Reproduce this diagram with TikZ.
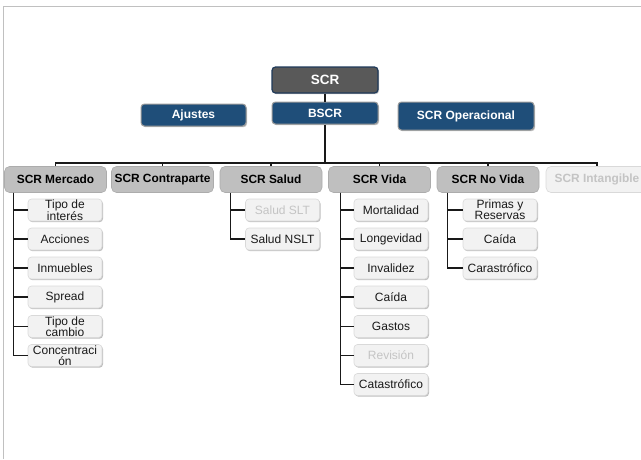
\documentclass[tikz,border=0pt]{standalone}
\usepackage{fontspec}
\setmainfont{Liberation Sans}
\usetikzlibrary{shadows}
\definecolor{navy}{HTML}{1F4E79}
\definecolor{scrgray}{HTML}{595959}
\definecolor{scredge}{HTML}{1F3A5A}
\definecolor{lvlfill}{HTML}{BFBFBF}
\definecolor{leaffill}{HTML}{F2F2F2}
\definecolor{leafedge}{HTML}{D9D9D9}
\definecolor{leaftext}{HTML}{1A1A1A}
\definecolor{offtext}{HTML}{C4C4C4}
\definecolor{frame}{HTML}{C0C0C0}
\tikzset{
  boxbase/.style={rounded corners=3.5pt, inner sep=0pt, align=center,
    drop shadow={shadow xshift=1pt, shadow yshift=-1.2pt, opacity=0.25, fill=black}},
  topbox/.style={boxbase, fill=scrgray, draw=scredge, line width=1.2pt, text=white,
    minimum width=106pt, minimum height=26pt, font=\fontsize{13.5}{14}\selectfont\bfseries},
  bluebox/.style={boxbase, fill=navy, draw=gray!80, line width=1pt, text=white,
    font=\fontsize{12}{13}\selectfont\bfseries},
  lvlbox/.style={rounded corners=5pt, inner sep=0pt, align=center, fill=lvlfill, draw=lvlfill!90!black,
    line width=0.6pt, minimum width=102pt, minimum height=26pt, text=black,
    font=\fontsize{11.9}{12}\selectfont\bfseries},
  lvloff/.style={lvlbox, fill=leaffill, draw=leafedge, text=offtext},
  leafbox/.style={boxbase, fill=leaffill, draw=leafedge, line width=0.6pt, text=leaftext,
    minimum width=74pt, minimum height=22pt, font=\fontsize{12}{11.2}\selectfont},
  leafoff/.style={leafbox, text=offtext},
  conn/.style={line width=1.3pt, draw=black!90},
}
\begin{document}
\begin{tikzpicture}[x=1pt,y=-1pt]
\useasboundingbox (0,0) rectangle (641,459);
\draw[frame, line width=1.6pt] (3.5,459) -- (3.5,6.5) -- (641,6.5);

% top
\node[topbox] (scr) at (325,80) {SCR};
\node[bluebox, minimum width=106pt, minimum height=22pt] (bscr) at (325,113) {BSCR};
\node[bluebox, minimum width=105pt, minimum height=22pt] (ajustes) at (193.5,115) {Ajustes};
\node[bluebox, minimum width=136pt, minimum height=28pt] (oper) at (466,116) {SCR Operacional};
\draw[conn, line width=1.2pt] (scr.south) -- (bscr.north);

% level 2
\node[lvlbox] (mercado) at (55.5,179.5) {SCR Mercado};
\node[lvlbox] (contra) at (162.5,179.5) {SCR Contraparte};
\node[lvlbox] (salud) at (271,179.5) {SCR Salud};
\node[lvlbox] (vida) at (379.5,179.5) {SCR Vida};
\node[lvlbox] (novida) at (488,179.5) {SCR No Vida};
\node[lvloff] (intang) at (597,179.5) {SCR Intangible};

\coordinate (bus) at (325,163);
\draw[conn, line width=1.2pt] (bscr.south) -- (bus);
\draw[conn, line width=1.2pt] (mercado.north) -- (mercado.north |- bus) -- (intang.north |- bus) -- (intang.north);
\foreach \n in {contra,salud,vida,novida}
  \draw[conn, line width=1.2pt] (\n.north) -- (\n.north |- bus);

% Mercado children
\node[leafbox] (m1) at (65,210) {Tipo de\\interés};
\node[leafbox] (m2) at (65,239) {Acciones};
\node[leafbox] (m3) at (65,268) {Inmuebles};
\node[leafbox] (m4) at (65,297) {Spread};
\node[leafbox] (m5) at (65,326.5) {Tipo de\\cambio};
\node[leafbox] (m6) at (65,355.5) {Concentraci\\ón};
\foreach \c in {m1,m2,m3,m4,m5,m6}
  \draw[conn] ([xshift=9pt]mercado.south west) |- (\c.west);

% Salud children
\node[leafoff] (s1) at (282.5,210) {Salud SLT};
\node[leafbox] (s2) at (282.5,239) {Salud NSLT};
\foreach \c in {s1,s2}
  \draw[conn] ([xshift=11pt]salud.south west) |- (\c.west);

% Vida children
\node[leafbox] (v1) at (391,210) {Mortalidad};
\node[leafbox] (v2) at (391,239) {Longevidad};
\node[leafbox] (v3) at (391,268) {Invalidez};
\node[leafbox] (v4) at (391,297) {Caída};
\node[leafbox] (v5) at (391,326.5) {Gastos};
\node[leafoff] (v6) at (391,355.5) {Revisión};
\node[leafbox] (v7) at (391,384.5) {Catastrófico};
\foreach \c in {v1,v2,v3,v4,v5,v6,v7}
  \draw[conn] ([xshift=12.5pt]vida.south west) |- (\c.west);

% No Vida children
\node[leafbox] (n1) at (500,210) {Primas y\\Reservas};
\node[leafbox] (n2) at (500,239) {Caída};
\node[leafbox] (n3) at (500,268) {Carastrófico};
\foreach \c in {n1,n2,n3}
  \draw[conn] ([xshift=11pt]novida.south west) |- (\c.west);
\end{tikzpicture}
\end{document}
